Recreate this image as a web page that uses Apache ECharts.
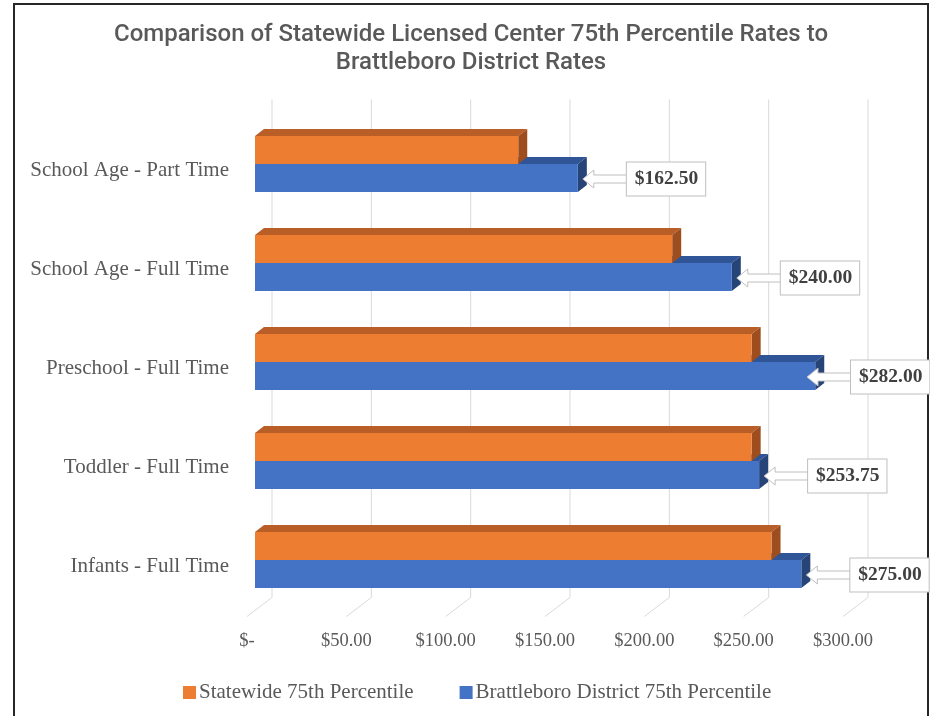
<!DOCTYPE html>
<html>
<head>
<meta charset="utf-8">
<script src="https://cdn.jsdelivr.net/npm/echarts/dist/echarts.min.js"></script>
<style>
  html, body { margin: 0; padding: 0; background: #fff; }
  #main { width: 930px; height: 716px; }
</style>
</head>
<body>
<div id="main"></div>
<script>
// data
var categories = ['School Age - Part Time', 'School Age - Full Time', 'Preschool - Full Time', 'Toddler - Full Time', 'Infants - Full Time'];
var statewide = [132.5, 210, 250, 250, 260];
var brattleboro = [162.5, 240, 282, 253.75, 275];
var ticks = [0, 50, 100, 150, 200, 250, 300];

var SERIF = '"Liberation Serif", "DejaVu Serif", serif';
var GREY = '#595959';
var DX = 9, DY = -7; // 3d depth of the bars

function money(v) {
    return v === 0 ? '$-' : '$' + v.toFixed(2);
}

// one 3d bar: front face + top + right side
function bar3d(colors, below) {
    return function (params, api) {
        var v = api.value(0), c = api.value(1);
        var p0 = api.coord([0, c]);
        var p1 = api.coord([v, c]);
        var h = api.size([0, 1])[1] * 0.283;
        var x0 = p0[0], x1 = p1[0];
        var y0 = below ? p0[1] : p0[1] - h;
        var y1 = y0 + h;
        return {
            type: 'group',
            children: [
                { type: 'polygon', shape: { points: [[x0, y0], [x0 + DX, y0 + DY], [x1 + DX, y0 + DY], [x1, y0]] },
                  style: { fill: colors[1] } },
                { type: 'polygon', shape: { points: [[x1, y0], [x1 + DX, y0 + DY], [x1 + DX, y1 + DY], [x1, y1]] },
                  style: { fill: colors[2] } },
                { type: 'rect', shape: { x: x0, y: y0, width: x1 - x0, height: h },
                  style: { fill: colors[0] } }
            ]
        };
    };
}

// back wall grid lines with the slanted floor lines
function wallLines(params, api) {
    var v = api.value(0);
    var p = api.coord([v, 0]);
    var cs = params.coordSys;
    var top = cs.y - 15, bot = cs.y + cs.height - 12;
    return {
        type: 'group',
        children: [
            { type: 'line', shape: { x1: p[0] + 17, y1: top, x2: p[0] + 17, y2: bot }, style: { stroke: '#d9d9d9', lineWidth: 1 } },
            { type: 'line', shape: { x1: p[0] + 17, y1: bot, x2: p[0] - 8, y2: bot + 19 }, style: { stroke: '#d9d9d9', lineWidth: 1 } }
        ]
    };
}

// callout labels for the Brattleboro bars
function callouts(params, api) {
    var v = api.value(0), c = api.value(1);
    var p0 = api.coord([0, c]);
    var p1 = api.coord([v, c]);
    var h = api.size([0, 1])[1] * 0.283;
    var cy = p0[1] + h / 2 + 1;
    var tip = p1[0] + 5;
    var boxLeft = tip + 44;
    var maxLeft = api.getWidth() - 79;
    if (boxLeft > maxLeft) { boxLeft = maxLeft; tip = boxLeft - 44; }
    return {
        type: 'group',
        children: [
            { type: 'polygon', shape: { points: [[tip, cy], [tip + 11, cy - 9], [tip + 11, cy - 4], [boxLeft, cy - 4],
                                                 [boxLeft, cy + 4], [tip + 11, cy + 4], [tip + 11, cy + 9]] },
              style: { fill: '#fff', stroke: '#bfbfbf', lineWidth: 1 } },
            { type: 'text', x: boxLeft, y: cy,
              style: { text: money(v), font: 'bold 19.5px ' + SERIF, fill: '#404040', verticalAlign: 'middle',
                       backgroundColor: '#fff', borderColor: '#bfbfbf', borderWidth: 1, padding: [7, 7, 6, 8] } }
        ]
    };
}

var chart = echarts.init(document.getElementById('main'));

var option = {
    animation: false,
    legend: {
        data: ['Statewide 75th Percentile', 'Brattleboro District 75th Percentile'],
        left: 178, top: 677,
        icon: 'rect', itemWidth: 13, itemHeight: 13, itemGap: 46,
        textStyle: { fontFamily: SERIF, fontSize: 21, color: GREY, padding: [0, 0, 0, -2] }
    },
    grid: { left: 255, right: 79, top: 114.5, bottom: 106.5 },
    xAxis: {
        type: 'value', min: 0, max: 300, interval: 50,
        axisLine: { show: false }, axisTick: { show: false }, splitLine: { show: false },
        axisLabel: { formatter: money, margin: 22, padding: [0, 16, 0, 0],
                     fontFamily: SERIF, fontSize: 18.5, color: GREY }
    },
    yAxis: {
        type: 'category', data: categories, inverse: true,
        axisLine: { show: false }, axisTick: { show: false },
        axisLabel: {
            margin: 26,
            formatter: function (v) { return '{c|' + v + '}'; },
            rich: { c: { fontFamily: SERIF, fontSize: 21, color: GREY, padding: [13, 0, 0, 0] } }
        }
    },
    graphic: [
        { type: 'rect', shape: { x: 14, y: 4, width: 914, height: 730 }, style: { fill: 'none', stroke: '#262626', lineWidth: 2 } },
        // title, centred on the framed chart area
        { type: 'text', x: 471, y: 21,
          style: { text: 'Comparison of Statewide Licensed Center 75th Percentile Rates to\nBrattleboro District Rates',
                   align: 'center', verticalAlign: 'top', fill: GREY, font: '500 24px Roboto', lineHeight: 28 } }
    ],
    series: [
        { type: 'custom', name: 'grid', z: 1, silent: true, renderItem: wallLines,
          data: ticks.map(function (t) { return [t, 0]; }), encode: { x: 0, y: 1 } },
        { type: 'custom', name: 'Brattleboro District 75th Percentile', z: 2,
          itemStyle: { color: '#4472C4' },
          renderItem: bar3d(['#4472C4', '#2F5597', '#264478'], true),
          data: brattleboro.map(function (v, i) { return [v, i]; }), encode: { x: 0, y: 1 } },
        { type: 'custom', name: 'Statewide 75th Percentile', z: 3,
          itemStyle: { color: '#ED7D31' },
          renderItem: bar3d(['#ED7D31', '#B85E26', '#9E4E1E'], false),
          data: statewide.map(function (v, i) { return [v, i]; }), encode: { x: 0, y: 1 } },
        { type: 'custom', name: 'labels', z: 4, silent: true, renderItem: callouts,
          data: brattleboro.map(function (v, i) { return [v, i]; }), encode: { x: 0, y: 1 } }
    ]
};

chart.setOption(option);
</script>
</body>
</html>
